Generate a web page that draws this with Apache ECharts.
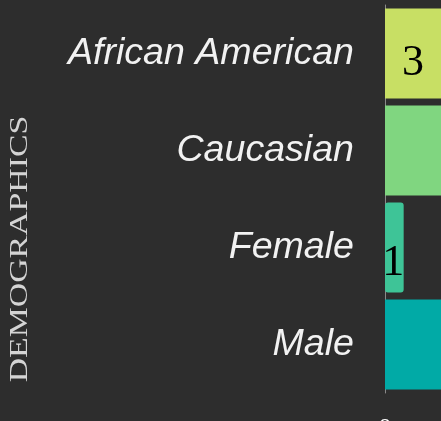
<!DOCTYPE html>
<html>
<head>
<meta charset="utf-8">
<script src="https://cdn.jsdelivr.net/npm/echarts@6/dist/echarts.min.js"></script>
<style>
  html, body { margin: 0; padding: 0; background: #2d2d2d; }
  #chart { width: 441px; height: 421px; }
</style>
</head>
<body>
<div id="chart"></div>
<script>
// data
var categories = ['African American', 'Caucasian', 'Female', 'Male'];
var counts = [3, 7, 1, 9];
var barColors = ['#c8df64', '#80d680', '#3ec497', '#01aaa6'];

var myChart = echarts.init(document.getElementById('chart'));

var seriesData = counts.map(function (v, i) {
  var item = { value: v, itemStyle: { color: barColors[i] } };
  if (categories[i] === 'Female') {
    // this one is drawn a bit differently (rounded, slightly wider)
    item.itemStyle.borderColor = barColors[i];
    item.itemStyle.borderWidth = 2;
    item.itemStyle.borderRadius = 2;
    item.label = { offset: [-1, 16] };
  }
  return item;
});

var option = {
  backgroundColor: '#2d2d2d',
  animation: false,
  graphic: [{
    type: 'text',
    rotation: Math.PI / 2,
    scaleX: 1.3,
    x: 20,
    y: 249,
    style: {
      text: 'DEMOGRAPHICS',
      fill: '#d4d4d4',
      font: '26px "Liberation Serif"',
      align: 'center',
      verticalAlign: 'middle'
    }
  }],
  grid: {
    left: 385,
    width: 224,
    top: 5,
    height: 388,
    outerBoundsMode: 'none',
    containLabel: false
  },
  xAxis: {
    type: 'value',
    min: 0,
    max: 12,
    interval: 4,
    splitLine: { show: false },
    axisLine: { show: false },
    axisTick: { show: false },
    axisLabel: {
      color: '#ffffff',
      fontFamily: 'Liberation Serif',
      fontSize: 28,
      margin: 23
    }
  },
  yAxis: {
    type: 'category',
    inverse: true,
    data: categories,
    axisTick: { show: false },
    axisLine: { show: true, lineStyle: { color: '#8a8a8a', width: 1 } },
    axisLabel: {
      color: '#f2f2f2',
      fontFamily: 'Liberation Sans',
      fontStyle: 'italic',
      fontSize: 37.6,
      margin: 31
    }
  },
  series: [{
    type: 'bar',
    data: seriesData,
    barCategoryGap: '7.2%',
    label: {
      show: true,
      position: 'inside',
      color: '#000000',
      fontFamily: 'Liberation Serif',
      fontSize: 44,
      offset: [0, 10]
    }
  }]
};

myChart.setOption(option);
</script>
</body>
</html>
